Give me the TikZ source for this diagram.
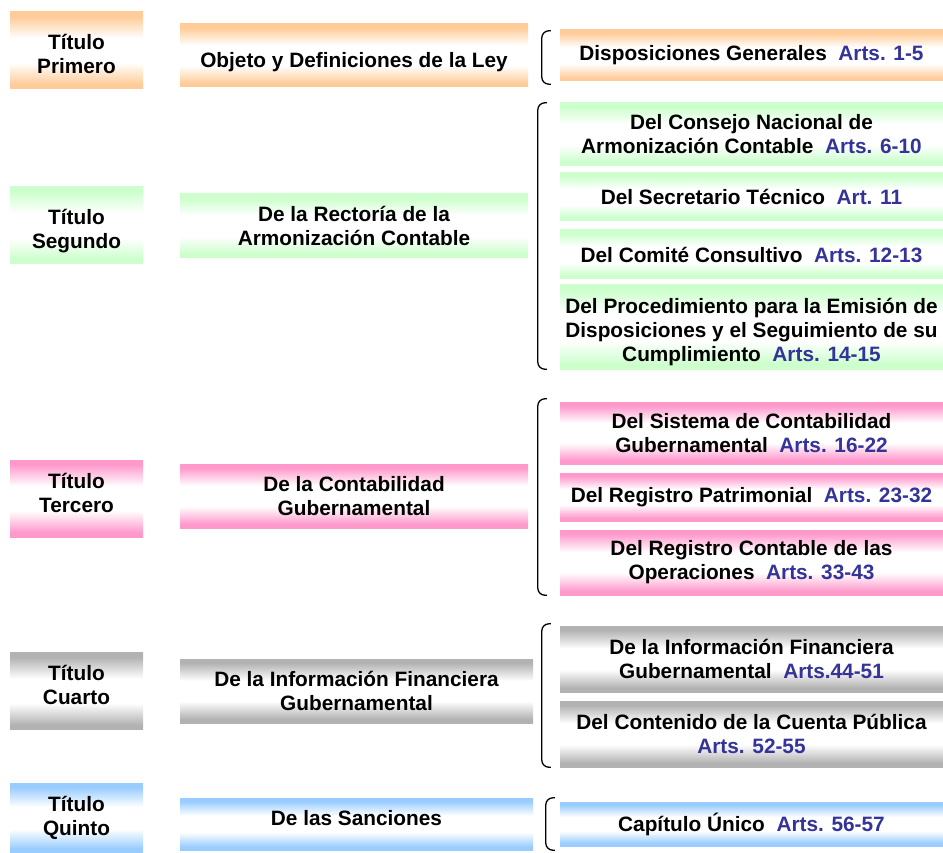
\documentclass[tikz,border=0pt]{standalone}
\usepackage{fontspec}
\setmainfont{Liberation Sans}
\definecolor{naranja}{HTML}{FFCC99}
\definecolor{verde}{HTML}{CCFFCC}
\definecolor{rosa}{HTML}{FF99CC}
\definecolor{gris}{HTML}{B2B2B2}
\definecolor{celeste}{HTML}{99CCFF}
\definecolor{azulart}{HTML}{333399}
\pgfdeclareverticalshading{bandanaranja}{100bp}{color(0bp)=(naranja); color(28bp)=(naranja); color(42bp)=(white); color(58bp)=(white); color(72bp)=(naranja); color(100bp)=(naranja)}
\pgfdeclareverticalshading{bandaverde}{100bp}{color(0bp)=(verde); color(28bp)=(verde); color(42bp)=(white); color(58bp)=(white); color(72bp)=(verde); color(100bp)=(verde)}
\pgfdeclareverticalshading{bandarosa}{100bp}{color(0bp)=(rosa); color(28bp)=(rosa); color(42bp)=(white); color(58bp)=(white); color(72bp)=(rosa); color(100bp)=(rosa)}
\pgfdeclareverticalshading{bandagris}{100bp}{color(0bp)=(gris); color(28bp)=(gris); color(42bp)=(white); color(58bp)=(white); color(72bp)=(gris); color(100bp)=(gris)}
\pgfdeclareverticalshading{bandaceleste}{100bp}{color(0bp)=(celeste); color(28bp)=(celeste); color(42bp)=(white); color(58bp)=(white); color(72bp)=(celeste); color(100bp)=(celeste)}
\newcommand\art[1]{\textcolor{azulart}{#1}}
\begin{document}
\begin{tikzpicture}[x=1pt, y=-1pt, font=\fontsize{20.8}{24}\selectfont\bfseries,
  caja/.style={shading=banda#1, inner sep=0pt, align=center},
  titulo/.style={minimum width=133, minimum height=77},
  tema/.style={minimum width=348, minimum height=64},
  capit/.style={minimum width=383},
  llave/.style={line width=1.3pt, rounded corners=7pt}]
  \useasboundingbox (0,0) rectangle (943,853);
  % titulos
  \node[caja=naranja, titulo, text height=46.3] (t1) at (76.5,50.5) {Título\\Primero};
  \node[caja=verde, titulo, text height=51.3] (t2) at (76.5,225.5) {Título\\Segundo};
  \node[caja=rosa, titulo, text height=27.3] (t3) at (76.5,498.5) {Título\\Tercero};
  \node[caja=gris, titulo, text height=27.3] (t4) at (76.5,691) {Título\\Cuarto};
  \node[caja=celeste, titulo, minimum height=70] (t5) at (76.5,818) {Título\\Quinto};
  % temas
  \node[caja=naranja, tema, minimum height=63, text height=29.3] (m1) at (354,55.5) {Objeto y Definiciones de la Ley};
  \node[caja=verde, tema] (m2) at (354,226) {De la Rectoría de la\\Armonización Contable};
  \node[caja=rosa, tema] (m3) at (354,496) {De la Contabilidad\\Gubernamental};
  \node[caja=gris, tema, minimum width=353] (m4) at (356.5,691) {De la Información Financiera\\Gubernamental};
  \node[caja=celeste, tema, minimum width=353, minimum height=52, text height=3.3] (m5) at (356.5,824) {De las Sanciones};
  % capitulos
  \node[caja=naranja, capit, minimum height=51] (c11) at (751.5,55.5) {Disposiciones Generales~ \art{Arts. 1-5}};
  \node[caja=verde, capit, minimum height=63] (c21) at (751.5,134.5) {Del Consejo Nacional de\\Armonización Contable~ \art{Arts. 6-10}};
  \node[caja=verde, capit, minimum height=48] (c22) at (751.5,197) {Del Secretario Técnico~ \art{Art. 11}};
  \node[caja=verde, capit, minimum height=49] (c23) at (751.5,254.5) {Del Comité Consultivo~ \art{Arts. 12-13}};
  \node[caja=verde, capit, minimum height=84, text height=73.3] (c24) at (751.5,327) {Del Procedimiento para la Emisión de\\Disposiciones y el Seguimiento de su\\Cumplimiento~ \art{Arts. 14-15}};
  \node[caja=rosa, capit, minimum height=62] (c31) at (751.5,433) {Del Sistema de Contabilidad\\Gubernamental~ \art{Arts. 16-22}};
  \node[caja=rosa, capit, minimum height=48] (c32) at (751.5,497) {Del Registro Patrimonial~ \art{Arts. 23-32}};
  \node[caja=rosa, capit, minimum height=65] (c33) at (751.5,562.5) {Del Registro Contable de las\\Operaciones~ \art{Arts. 33-43}};
  \node[caja=gris, capit, minimum height=66] (c41) at (751.5,659) {De la Información Financiera\\Gubernamental~ \art{Arts.44-51}};
  \node[caja=gris, capit, minimum height=66] (c42) at (751.5,734) {Del Contenido de la Cuenta Pública\\\art{Arts. 52-55}};
  \node[caja=celeste, capit, minimum height=44] (c51) at (751.5,824) {Capítulo Único~ \art{Arts. 56-57}};
  % llaves
  \draw[llave] ([shift={(-9,1)}]c11.north west) -- ([shift={(-18,1)}]c11.north west) -- ([shift={(-18,3)}]c11.south west) -- ([shift={(-9,3)}]c11.south west);
  \draw[llave] ([xshift=-13]c21.north west) -- ([xshift=-22]c21.north west) -- ([xshift=-22]c24.south west) -- ([xshift=-13]c24.south west);
  \draw[llave] ([shift={(-13,-3)}]c31.north west) -- ([shift={(-22,-3)}]c31.north west) -- ([xshift=-22]c33.south west) -- ([xshift=-13]c33.south west);
  \draw[llave] ([shift={(-9,-2)}]c41.north west) -- ([shift={(-18,-2)}]c41.north west) -- ([xshift=-18]c42.south west) -- ([xshift=-9]c42.south west);
  \draw[llave] ([shift={(-5,-4)}]c51.north west) -- ([shift={(-14,-4)}]c51.north west) -- ([shift={(-14,4)}]c51.south west) -- ([shift={(-5,4)}]c51.south west);
\end{tikzpicture}
\end{document}
